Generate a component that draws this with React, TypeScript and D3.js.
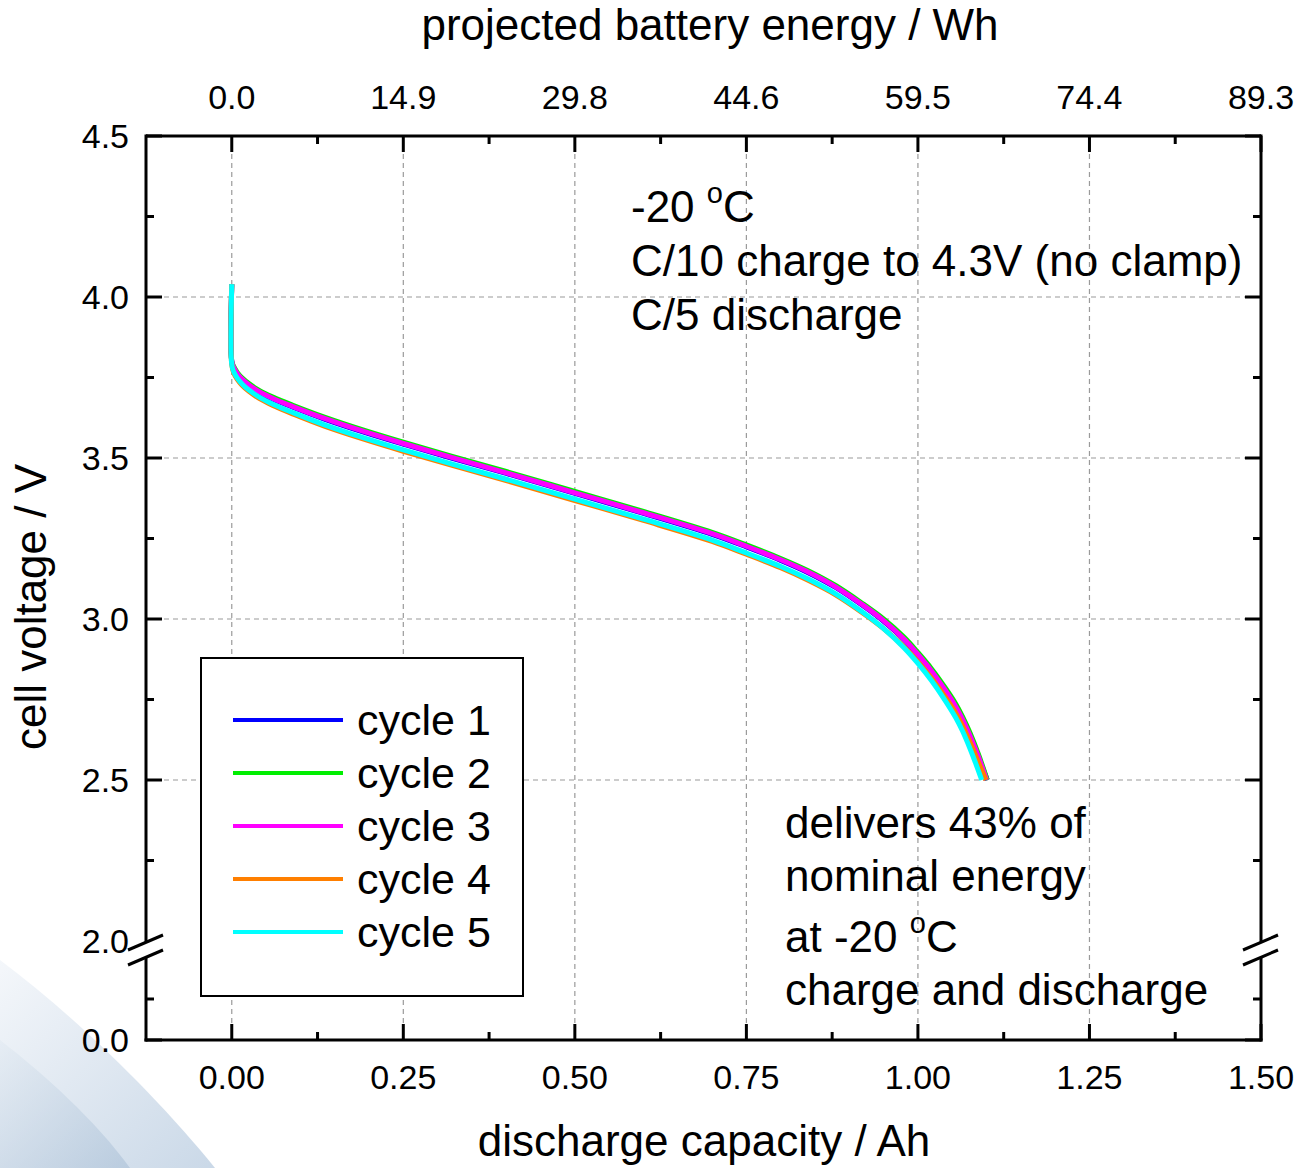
import React from "react";
import * as d3 from "d3";

const W = 1306;
const H = 1168;

// discharge capacity tick values (Ah) and the matching projected energy labels (Wh)
const capTicks = [0, 0.25, 0.5, 0.75, 1.0, 1.25, 1.5];
const capLabels = ["0.00", "0.25", "0.50", "0.75", "1.00", "1.25", "1.50"];
const energyLabels = ["0.0", "14.9", "29.8", "44.6", "59.5", "74.4", "89.3"];
const voltTicksUpper = [4.5, 4.0, 3.5, 3.0, 2.5];
const voltLabelsUpper = ["4.5", "4.0", "3.5", "3.0", "2.5"];
const voltGrid = [4.0, 3.5, 3.0, 2.5];
const voltMinorUpper = [4.25, 3.75, 3.25, 2.75, 2.25];

const seriesNames = ["cycle 1", "cycle 2", "cycle 3", "cycle 4", "cycle 5"];
const seriesColors = ["#0000ff", "#00ee00", "#ff00ff", "#ff7f00", "#00ffff"];

// [capacity Ah, voltage V]
const cycle1: [number, number][] = [
  [0, 4.04], [0, 3.80], [0.003, 3.778], [0.008, 3.760], [0.015, 3.743], [0.025, 3.725],
  [0.04, 3.704], [0.06, 3.683], [0.09, 3.657], [0.135, 3.621], [0.19, 3.582], [0.25, 3.543],
  [0.32, 3.500], [0.4, 3.452], [0.5, 3.390], [0.6, 3.328], [0.7, 3.263], [0.75, 3.224],
  [0.8, 3.182], [0.84, 3.144], [0.88, 3.098], [0.92, 3.041], [0.95, 2.993], [0.98, 2.936],
  [1.0, 2.889], [1.02, 2.837], [1.04, 2.777], [1.055, 2.727], [1.065, 2.687], [1.076, 2.636],
  [1.088, 2.572], [1.101, 2.5],
];
const cycle2: [number, number][] = [
  [0, 4.04], [0, 3.80], [0.003, 3.784], [0.008, 3.766], [0.015, 3.749], [0.025, 3.731],
  [0.04, 3.710], [0.06, 3.689], [0.09, 3.663], [0.135, 3.627], [0.19, 3.588], [0.25, 3.549],
  [0.32, 3.506], [0.4, 3.458], [0.5, 3.396], [0.6, 3.334], [0.7, 3.269], [0.75, 3.230],
  [0.8, 3.188], [0.84, 3.150], [0.88, 3.104], [0.92, 3.047], [0.95, 3.000], [0.98, 2.943],
  [1.0, 2.896], [1.02, 2.845], [1.04, 2.786], [1.055, 2.737], [1.065, 2.697], [1.076, 2.646],
  [1.088, 2.581], [1.101, 2.5],
];
const cycle3: [number, number][] = [
  [0, 4.04], [0, 3.80], [0.003, 3.780], [0.008, 3.762], [0.015, 3.745], [0.025, 3.727],
  [0.04, 3.706], [0.06, 3.685], [0.09, 3.659], [0.135, 3.623], [0.19, 3.584], [0.25, 3.545],
  [0.32, 3.502], [0.4, 3.454], [0.5, 3.392], [0.6, 3.330], [0.7, 3.265], [0.75, 3.226],
  [0.8, 3.184], [0.84, 3.146], [0.88, 3.100], [0.92, 3.043], [0.95, 2.995], [0.98, 2.937],
  [1.0, 2.890], [1.02, 2.838], [1.04, 2.778], [1.055, 2.728], [1.065, 2.688], [1.076, 2.637],
  [1.088, 2.573], [1.1, 2.5],
];
const cycle4: [number, number][] = [
  [0, 4.04], [0, 3.79], [0.003, 3.764], [0.008, 3.744], [0.015, 3.726], [0.025, 3.707],
  [0.04, 3.685], [0.06, 3.663], [0.09, 3.636], [0.135, 3.599], [0.19, 3.560], [0.25, 3.521],
  [0.32, 3.478], [0.4, 3.430], [0.5, 3.368], [0.6, 3.306], [0.7, 3.241], [0.75, 3.201],
  [0.8, 3.159], [0.84, 3.120], [0.88, 3.075], [0.92, 3.018], [0.95, 2.970], [0.98, 2.913],
  [1.0, 2.867], [1.02, 2.816], [1.04, 2.757], [1.055, 2.708], [1.065, 2.668], [1.076, 2.617],
  [1.088, 2.556], [1.099, 2.5],
];
const cycle5: [number, number][] = [
  [0, 4.04], [0, 3.79], [0.003, 3.767], [0.008, 3.748], [0.015, 3.730], [0.025, 3.711],
  [0.04, 3.689], [0.06, 3.667], [0.09, 3.640], [0.135, 3.603], [0.19, 3.564], [0.25, 3.525],
  [0.32, 3.482], [0.4, 3.434], [0.5, 3.372], [0.6, 3.310], [0.7, 3.245], [0.75, 3.205],
  [0.8, 3.163], [0.84, 3.124], [0.88, 3.078], [0.92, 3.020], [0.95, 2.970], [0.98, 2.910],
  [1.0, 2.862], [1.02, 2.808], [1.04, 2.746], [1.055, 2.694], [1.065, 2.652], [1.076, 2.597],
  [1.085, 2.547], [1.093, 2.5],
];
const allSeries = [cycle1, cycle2, cycle3, cycle4, cycle5];

const FONT = "'Liberation Sans', Arial, Helvetica, sans-serif";

export default function App() {
  const left = 146, right = 1261, top = 136, bottom = 1040;
  const x = d3.scaleLinear().domain([-0.125, 1.5]).range([left, right]);
  const yUp = d3.scaleLinear().domain([2.0, 4.5]).range([941, top]);
  const yLow = d3.scaleLinear().domain([0, 2.0]).range([bottom, 958]);

  const line = d3
    .line<[number, number]>()
    .x((d) => x(d[0]))
    .y((d) => yUp(d[1]))
    .curve(d3.curveCatmullRom.alpha(0.5));

  const minorCap = d3.range(0.125, 1.5, 0.25);
  const grid = "#9a9a9a";
  const axisW = 3;

  return (
    <svg
      width={W}
      height={H}
      style={{ position: "absolute", left: 0, top: 0, background: "#fff" }}
      fontFamily={FONT}
    >
      <defs>
        <linearGradient id="bgA" x1="0" y1="0" x2="1" y2="1">
          <stop offset="0" stopColor="#f3f6fa" />
          <stop offset="1" stopColor="#c4d4e5" />
        </linearGradient>
        <linearGradient id="bgB" x1="0" y1="0" x2="1" y2="1">
          <stop offset="0" stopColor="#e2eaf2" />
          <stop offset="1" stopColor="#a9bfd6" />
        </linearGradient>
      </defs>
      <rect width={W} height={H} fill="#fff" />
      {/* background swoosh */}
      <path d="M0,960 C80,1020 160,1100 215,1168 L0,1168 Z" fill="url(#bgA)" opacity={0.9} />
      <path d="M0,1040 C45,1075 95,1120 130,1168 L0,1168 Z" fill="url(#bgB)" opacity={0.6} />

      {/* grid */}
      {capTicks.slice(0, 6).map((c, i) => (
        <line key={"gv" + i} x1={x(c)} x2={x(c)} y1={top} y2={bottom} stroke={grid} strokeWidth={1.2} strokeDasharray="5 4" />
      ))}
      {voltGrid.map((v, i) => (
        <line key={"gh" + i} x1={left} x2={right} y1={yUp(v)} y2={yUp(v)} stroke={grid} strokeWidth={1.2} strokeDasharray="5 4" />
      ))}

      {/* curves */}
      {allSeries.map((s, i) => (
        <path key={"s" + i} d={line(s) || ""} fill="none" stroke={seriesColors[i]} strokeWidth={5} strokeLinejoin="round" />
      ))}

      {/* frame */}
      <line x1={left} x2={right} y1={top} y2={top} stroke="#000" strokeWidth={axisW} />
      <line x1={left - 1.5} x2={right + 1.5} y1={bottom} y2={bottom} stroke="#000" strokeWidth={axisW} />
      <line x1={left} x2={left} y1={top - 1.5} y2={942} stroke="#000" strokeWidth={axisW} />
      <line x1={left} x2={left} y1={957} y2={bottom + 1.5} stroke="#000" strokeWidth={axisW} />
      <line x1={right} x2={right} y1={top - 1.5} y2={942} stroke="#000" strokeWidth={axisW} />
      <line x1={right} x2={right} y1={957} y2={bottom + 1.5} stroke="#000" strokeWidth={axisW} />
      {/* axis breaks */}
      {[left, right].map((ax, i) => (
        <g key={"br" + i} stroke="#000" strokeWidth={3}>
          <line x1={ax - 18} y1={950} x2={ax + 17} y2={935} />
          <line x1={ax - 18} y1={965} x2={ax + 17} y2={950} />
        </g>
      ))}

      {/* x ticks */}
      {capTicks.map((c, i) => (
        <g key={"xt" + i} stroke="#000" strokeWidth={axisW}>
          <line x1={x(c)} x2={x(c)} y1={bottom} y2={bottom - 16} />
          <line x1={x(c)} x2={x(c)} y1={top} y2={top + 16} />
        </g>
      ))}
      {minorCap.map((c, i) => (
        <g key={"xm" + i} stroke="#000" strokeWidth={axisW}>
          <line x1={x(c)} x2={x(c)} y1={bottom} y2={bottom - 8} />
          <line x1={x(c)} x2={x(c)} y1={top} y2={top + 8} />
        </g>
      ))}
      {/* y ticks */}
      {voltTicksUpper.map((v, i) => (
        <g key={"yt" + i} stroke="#000" strokeWidth={axisW}>
          <line x1={left} x2={left + 16} y1={yUp(v)} y2={yUp(v)} />
          <line x1={right} x2={right - 16} y1={yUp(v)} y2={yUp(v)} />
        </g>
      ))}
      {voltMinorUpper.map((v, i) => (
        <g key={"ym" + i} stroke="#000" strokeWidth={axisW}>
          <line x1={left} x2={left + 8} y1={yUp(v)} y2={yUp(v)} />
          <line x1={right} x2={right - 8} y1={yUp(v)} y2={yUp(v)} />
        </g>
      ))}
      <g stroke="#000" strokeWidth={axisW}>
        <line x1={left} x2={left + 8} y1={yLow(1.0)} y2={yLow(1.0)} />
        <line x1={right} x2={right - 8} y1={yLow(1.0)} y2={yLow(1.0)} />
        <line x1={left} x2={left + 16} y1={yLow(0)} y2={yLow(0)} />
        <line x1={right} x2={right - 16} y1={yLow(0)} y2={yLow(0)} />
      </g>

      {/* tick labels */}
      <g fontSize={34} fill="#000" textAnchor="middle">
        {capTicks.map((c, i) => (
          <text key={"xl" + i} x={x(c)} y={1089}>{capLabels[i]}</text>
        ))}
        {capTicks.map((c, i) => (
          <text key={"el" + i} x={x(c)} y={109}>{energyLabels[i]}</text>
        ))}
      </g>
      <g fontSize={34} fill="#000" textAnchor="end">
        {voltTicksUpper.map((v, i) => (
          <text key={"yl" + i} x={129} y={yUp(v) + 12}>{voltLabelsUpper[i]}</text>
        ))}
        <text x={129} y={yUp(2.0) + 12}>2.0</text>
        <text x={129} y={yLow(0) + 12}>0.0</text>
      </g>

      {/* axis titles */}
      <text x={710} y={40} fontSize={44} textAnchor="middle">projected battery energy / Wh</text>
      <text x={704} y={1156} fontSize={44} textAnchor="middle">discharge capacity / Ah</text>
      <text transform="translate(46,607) rotate(-90)" fontSize={44} textAnchor="middle">cell voltage / V</text>

      {/* annotations */}
      <g fontSize={44} fill="#000">
        <text x={631} y={222}>
          -20 <tspan fontSize={29} dy={-19}>o</tspan><tspan dy={19}>C</tspan>
        </text>
        <text x={631} y={276}>C/10 charge to 4.3V (no clamp)</text>
        <text x={631} y={330}>C/5 discharge</text>
        <text x={785} y={838}>delivers 43% of</text>
        <text x={785} y={891}>nominal energy</text>
        <text x={785} y={952}>
          at -20 <tspan fontSize={29} dy={-19}>o</tspan><tspan dy={19}>C</tspan>
        </text>
        <text x={785} y={1005}>charge and discharge</text>
      </g>

      {/* legend */}
      <rect x={201} y={658} width={322} height={338} fill="#fff" stroke="#000" strokeWidth={2} />
      {seriesNames.map((n, i) => (
        <g key={"lg" + i}>
          <line x1={233} x2={343} y1={720 + i * 53} y2={720 + i * 53} stroke={seriesColors[i]} strokeWidth={4} />
          <text x={357} y={735 + i * 53} fontSize={43}>{n}</text>
        </g>
      ))}
    </svg>
  );
}
